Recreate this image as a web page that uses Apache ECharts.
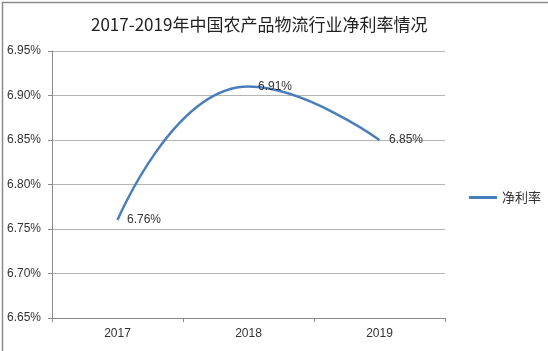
<!DOCTYPE html>
<html>
<head>
<meta charset="utf-8">
<script src="https://cdn.jsdelivr.net/npm/echarts@6/dist/echarts.min.js"></script>
<style>
  html, body { margin: 0; padding: 0; background: #fff; }
  #main { width: 548px; height: 351px; }
</style>
</head>
<body>
<div id="main"></div>
<script>
// 年份
var years = ['2017', '2018', '2019'];
// 净利率 (%)
var netMargin = [6.76, 6.91, 6.85];
var seriesName = '净利率';

var chart = echarts.init(document.getElementById('main'));
var textFont = '"Liberation Sans", "Noto Sans CJK SC", sans-serif';

var option = {
    backgroundColor: '#fff',
    animation: false,
    title: {
        text: '2017-2019年中国农产品物流行业净利率情况',
        left: 86,
        top: 11,
        textStyle: {
            fontFamily: '"Noto Sans CJK SC", sans-serif',
            fontSize: 17,
            fontWeight: 'normal',
            color: '#222'
        }
    },
    graphic: [{
        type: 'rect',
        left: 0,
        top: 0,
        shape: { width: 547, height: 350 },
        style: { fill: 'none', stroke: '#8c8c8c', lineWidth: 1.5 },
        silent: true
    }],
    legend: {
        data: [{ name: seriesName, itemStyle: { color: '#4A7EBB' } }],
        left: 464,
        top: 186,
        itemWidth: 28,
        itemHeight: 3,
        itemGap: 4,
        icon: 'rect',
        textStyle: {
            fontFamily: '"Noto Sans CJK SC", sans-serif',
            fontSize: 13,
            color: '#333'
        }
    },
    grid: {
        left: 52,
        right: 103,
        top: 51,
        bottom: 33
    },
    xAxis: {
        type: 'category',
        data: years,
        boundaryGap: true,
        axisLine: { lineStyle: { color: '#8a8a8a', width: 1 } },
        axisTick: { show: true, length: 4, lineStyle: { color: '#8a8a8a' } },
        axisLabel: {
            margin: 10,
            fontFamily: textFont,
            fontSize: 12,
            color: '#333'
        }
    },
    yAxis: {
        type: 'value',
        min: 6.65,
        max: 6.95,
        interval: 0.05,
        axisLine: { show: true, lineStyle: { color: '#8a8a8a', width: 1 } },
        axisTick: { show: true, length: 4, lineStyle: { color: '#8a8a8a' } },
        splitLine: { lineStyle: { color: '#b4b4b4', width: 1 } },
        axisLabel: {
            margin: 11,
            fontFamily: textFont,
            fontSize: 12,
            color: '#333',
            formatter: function (v) {
                return v.toFixed(2) + '%';
            }
        }
    },
    series: [{
        name: seriesName,
        type: 'line',
        data: netMargin,
        smooth: 0.5,
        showSymbol: true,
        symbol: 'circle',
        symbolSize: 1,
        itemStyle: { color: 'rgba(74,126,187,0)' },
        lineStyle: { color: '#4A7EBB', width: 2.5 },
        label: {
            show: true,
            position: 'right',
            distance: 9,
            fontFamily: textFont,
            fontSize: 12,
            color: '#333',
            formatter: function (p) {
                return p.value.toFixed(2) + '%';
            }
        }
    }]
};

chart.setOption(option);
</script>
</body>
</html>
